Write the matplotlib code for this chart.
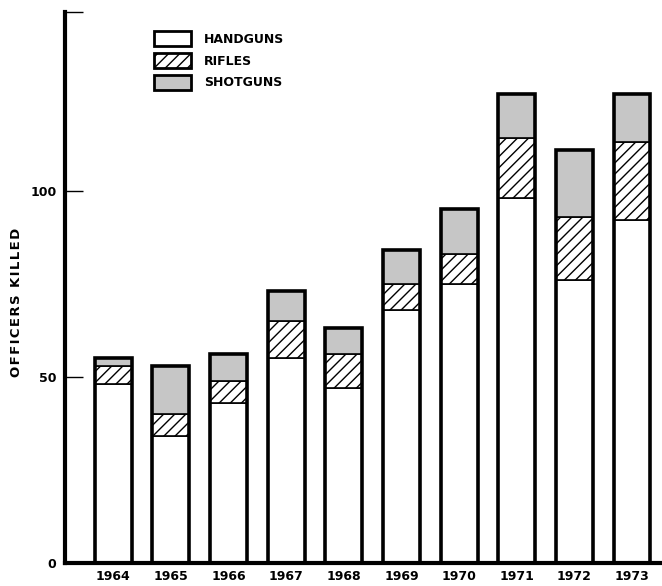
import numpy as np
import matplotlib
matplotlib.use('Agg')
import matplotlib.pyplot as plt
from matplotlib.patches import Patch

# Officers killed by weapon type
years = ['1964', '1965', '1966', '1967', '1968', '1969', '1970', '1971', '1972', '1973']
handguns = [48, 34, 43, 55, 47, 68, 75, 98, 76, 92]
rifles = [5, 6, 6, 10, 9, 7, 8, 16, 17, 21]
shotguns = [2, 13, 7, 8, 7, 9, 12, 12, 18, 13]

plt.rcParams['hatch.linewidth'] = 1.0
plt.rcParams['font.family'] = ['DejaVu Sans']

fig = plt.figure(figsize=(6.62, 5.86), dpi=100)
ax = fig.add_axes([0.098, 0.039, 0.902, 0.941])

x = np.arange(len(years))
w = 0.64
h = np.array(handguns)
r = np.array(rifles)
s = np.array(shotguns)
shot_col = '#c6c6c6'

ax.bar(x, h, w, color='white', edgecolor='black', linewidth=1.2)
ax.bar(x, r, w, bottom=h, color='white', edgecolor='black', linewidth=1.2, hatch='///')
ax.bar(x, s, w, bottom=h + r, color=shot_col, edgecolor='black', linewidth=1.2)
# thick outer outline around each full bar
ax.bar(x, h + r + s, w, fill=False, edgecolor='black', linewidth=2.6)

ax.set_xlim(-0.84, 9.52)
ax.set_ylim(0, 148)
ax.set_xticks(x)
ax.set_xticklabels(years, fontsize=9, fontweight='bold')
ax.tick_params(axis='x', length=0, pad=5)
ax.set_yticks([0, 50, 100, 148])
ax.set_yticklabels(['0', '50', '100', ''], fontsize=9, fontweight='bold')
ax.tick_params(axis='y', direction='in', length=13, width=1, pad=6)

ax.spines['top'].set_visible(False)
ax.spines['right'].set_visible(False)
ax.spines['left'].set_linewidth(3)
ax.spines['bottom'].set_linewidth(3)

# slightly letter-spaced axis title
ax.set_ylabel('\u200a'.join('OFFICERS KILLED'), fontsize=9.5, fontweight='bold')
ax.yaxis.set_label_coords(-0.07, 0.472)

handles = [
    Patch(facecolor='white', edgecolor='black', linewidth=2),
    Patch(facecolor='white', edgecolor='black', linewidth=2, hatch='///'),
    Patch(facecolor=shot_col, edgecolor='black', linewidth=2),
]
leg = ax.legend(handles, ['HANDGUNS', 'RIFLES', 'SHOTGUNS'], loc='upper left',
                bbox_to_anchor=(0.13, 0.985), frameon=False, prop={'size': 9, 'weight': 'bold'},
                handlelength=3.0, handleheight=1.4, labelspacing=0.6, handletextpad=1.0)

fig.savefig('out.png', dpi=100)
